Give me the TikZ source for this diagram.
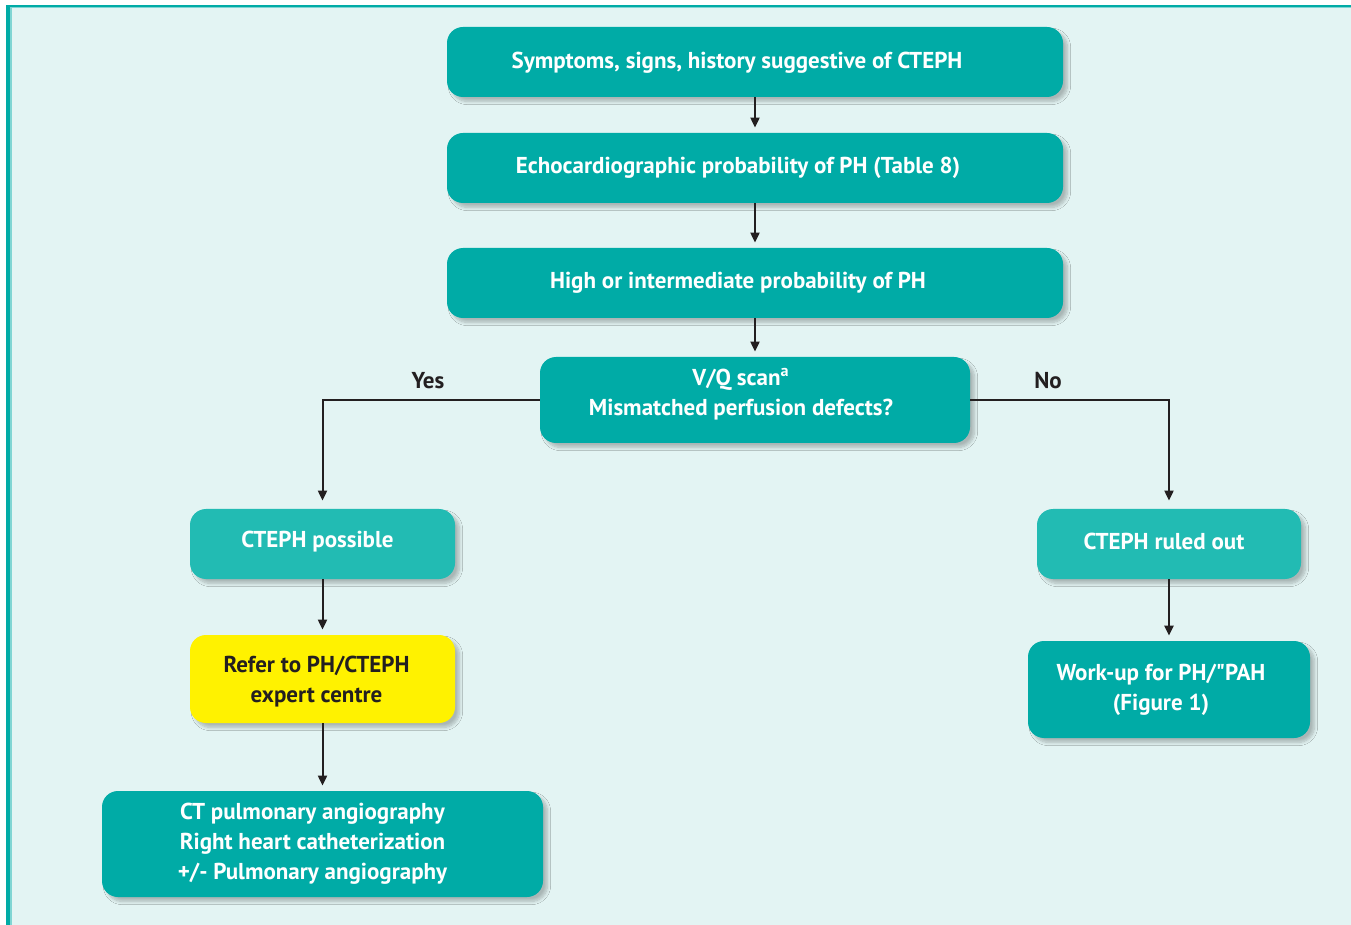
\documentclass[tikz,border=0pt]{standalone}
\usepackage{fontspec}
\setmainfont{PT Sans}
\usetikzlibrary{arrows.meta,shadows.blur}

\definecolor{teal}{HTML}{00ABA6}
\definecolor{lightteal}{HTML}{22BBB3}
\definecolor{hiyellow}{HTML}{FFF200}
\definecolor{panel}{HTML}{E3F4F3}
\definecolor{ink}{HTML}{231F20}

\tikzset{
  box/.style={rounded corners=8pt, fill=teal, draw=none,
    blur shadow={shadow xshift=2.2pt, shadow yshift=-2.2pt,
                 shadow blur radius=1.6pt, shadow blur steps=8, shadow opacity=25},
    inner sep=0pt},
  boxtext/.style={text=white, font=\fontsize{11.5}{15}\bfseries\selectfont,
    align=center, inner sep=0pt},
  darktext/.style={boxtext, text=ink},
  flow/.style={draw=ink, line width=1pt, -{Triangle[length=5pt,width=4.5pt]}},
  answer/.style={text=ink, font=\fontsize{11.5}{13}\bfseries\selectfont, inner sep=0pt}
}

\begin{document}
\begin{tikzpicture}[x=0.5pt,y=-0.5pt]
  % page, panel and frame
  \useasboundingbox (0,0) rectangle (1351,925);
  \fill[white] (0,0) rectangle (1351,925);
  \fill[panel] (8,6) rectangle (1351,925);
  \fill[teal!50] (10,7) rectangle (1351,8.5);
  \fill[teal!50] (10,7) rectangle (11.5,925);
  \fill[teal] (6,5) rectangle (1351,7.3);
  \fill[teal] (6,5) rectangle (10,925);

  % boxes
  \node[box, minimum width=308pt, minimum height=35pt] (sym) at (755,62) {};
  \node[boxtext] (symt) at ([xshift=-9pt,yshift=-0.5pt]sym.center) {Symptoms, signs, history suggestive of CTEPH};

  \node[box, minimum width=308pt, minimum height=35pt] (echo) at (755,168) {};
  \node[boxtext] (echot) at ([xshift=-8.5pt]echo.center) {Echocardiographic probability of PH (Table 8)};

  \node[box, minimum width=308pt, minimum height=35pt] (high) at (755,283) {};
  \node[boxtext] (hight) at ([xshift=-8.5pt]high.center) {High or intermediate probability of PH};

  \node[box, minimum width=215pt, minimum height=43pt] (vq) at (755,400) {};
  \node[boxtext] (vqt) at ([xshift=-7pt,yshift=3pt]vq.center) {V/Q scan\textsuperscript{a}\\Mismatched perfusion defects?};

  \node[box, fill=lightteal, minimum width=132.5pt, minimum height=35pt] (poss) at (322.5,544) {};
  \node[boxtext] (posst) at ([xshift=-2.5pt,yshift=1pt]poss.center) {CTEPH possible};

  \node[box, fill=hiyellow, minimum width=132.5pt, minimum height=44pt] (refer) at (322.5,679) {};
  \node[darktext] (refert) at ([xshift=-3pt,yshift=-1.5pt]refer.center) {Refer to PH/CTEPH\\expert centre};

  \node[box, minimum width=220.5pt, minimum height=53pt] (ct) at (322.5,844) {};
  \node[boxtext] (ctt) at ([xshift=-5pt]ct.center) {CT pulmonary angiography\\Right heart catheterization\\+/- Pulmonary angiography};

  \node[box, fill=lightteal, minimum width=132pt, minimum height=35pt] (out) at (1169,544) {};
  \node[boxtext] (outt) at ([xshift=-2.5pt,yshift=1.5pt]out.center) {CTEPH ruled out};

  \node[box, minimum width=141pt, minimum height=48.5pt] (work) at (1169,689.5) {};
  \node[boxtext] (workt) at ([xshift=-4pt]work.center) {Work-up for PH/\textquotedbl PAH\\(Figure 1)};

  % connectors
  \draw[flow, shorten >=2.5pt] (sym) -- (echo);
  \draw[flow, shorten >=2.5pt] (echo) -- (high);
  \draw[flow, shorten >=2.5pt] (high) -- (vq);
  \draw[flow, shorten >=4pt] (vq.west) -| (poss.north);
  \draw[flow, shorten >=4pt] (vq.east) -| (out.north);
  \draw[flow, shorten >=2.5pt] (poss) -- (refer);
  \draw[flow, shorten >=2.5pt] (refer) -- (ct);
  \draw[flow, line width=1.4pt, shorten >=2.5pt] (out) -- (work);

  % branch answers
  \node[answer] (yes) at (428,381) {Yes};
  \node[answer] (no) at (1048,381) {No};
\end{tikzpicture}
\end{document}
